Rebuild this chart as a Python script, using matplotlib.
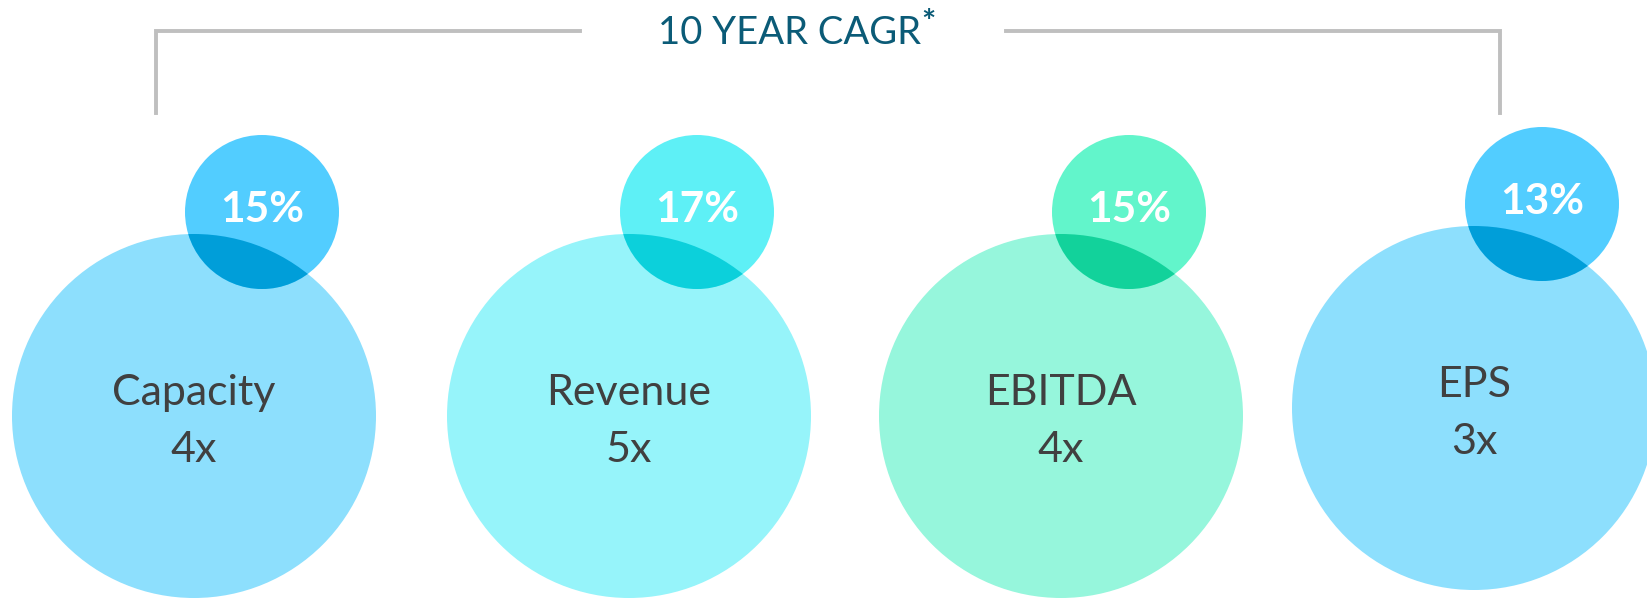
import matplotlib
matplotlib.use("Agg")
import matplotlib.pyplot as plt
from matplotlib.patches import Circle

# data
metrics = ["Capacity", "Revenue", "EBITDA", "EPS"]
multiples = [4, 5, 4, 3]
cagr = [15, 17, 15, 13]
title = "10 YEAR CAGR"

# colours per metric: big circle, small circle, overlap
big_colors = ["#8ddffd", "#96f4fa", "#96f6dc", "#8ddffd"]
small_colors = ["#52cdff", "#5ef0f6", "#62f5cb", "#52cdff"]
lens_colors = ["#009ed9", "#0cd0db", "#12d29b", "#009ed9"]

# layout in pixels (figure is 1647 x 598)
W, H = 1647, 598
big_x = [194, 629, 1061, 1474]
big_y = [416, 416, 416, 408]
big_r = 182
small_dx = 68
small_dy = -204
small_r = 77


def main():
    fig = plt.figure(figsize=(W / 100, H / 100), dpi=100)
    ax = fig.add_axes([0, 0, 1, 1])
    ax.set_xlim(0, W)
    ax.set_ylim(H, 0)
    ax.axis("off")

    font = ["Lato", "DejaVu Sans"]

    for i, name in enumerate(metrics):
        cx, cy = big_x[i], big_y[i]
        sx, sy = cx + small_dx, cy + small_dy

        big = Circle((cx, cy), big_r, facecolor=big_colors[i], lw=0, zorder=1)
        ax.add_patch(big)
        small = Circle((sx, sy), small_r, facecolor=small_colors[i], lw=0, zorder=2)
        ax.add_patch(small)
        # darker lens where the two circles overlap
        lens = Circle((sx, sy), small_r, facecolor=lens_colors[i], lw=0, zorder=3)
        ax.add_patch(lens)
        lens.set_clip_path(big)

        ax.text(cx, cy - 11, name, ha="center", va="baseline", fontsize=31,
                color="#404040", family=font, zorder=5)
        ax.text(cx, cy + 46, "%dx" % multiples[i], ha="center", va="baseline",
                fontsize=31, color="#404040", family=font, zorder=5)
        ax.text(sx, sy + 10, "%d%%" % cagr[i], ha="center", va="baseline",
                fontsize=30.5, color="white", weight="bold", family=font, zorder=5)

    # bracket above the chart
    grey = "#bfbfbf"
    ax.plot([156, 156, 580], [113, 31, 31], color=grey, lw=2.8,
            solid_joinstyle="miter", zorder=0)
    ax.plot([1006, 1500, 1500], [31, 31, 113], color=grey, lw=2.8,
            solid_joinstyle="miter", zorder=0)

    t = ax.text(789, 44, title, ha="center", va="baseline", fontsize=27.5,
                color="#0b5b77", family=font)
    ax.annotate("*", xy=(1, 1), xycoords=t, xytext=(0.5, 4),
                textcoords="offset points", ha="left", va="top",
                fontsize=24, weight="bold", color="#0b5b77", family=font)

    fig.savefig("out.png", dpi=100)


if __name__ == "__main__":
    main()
